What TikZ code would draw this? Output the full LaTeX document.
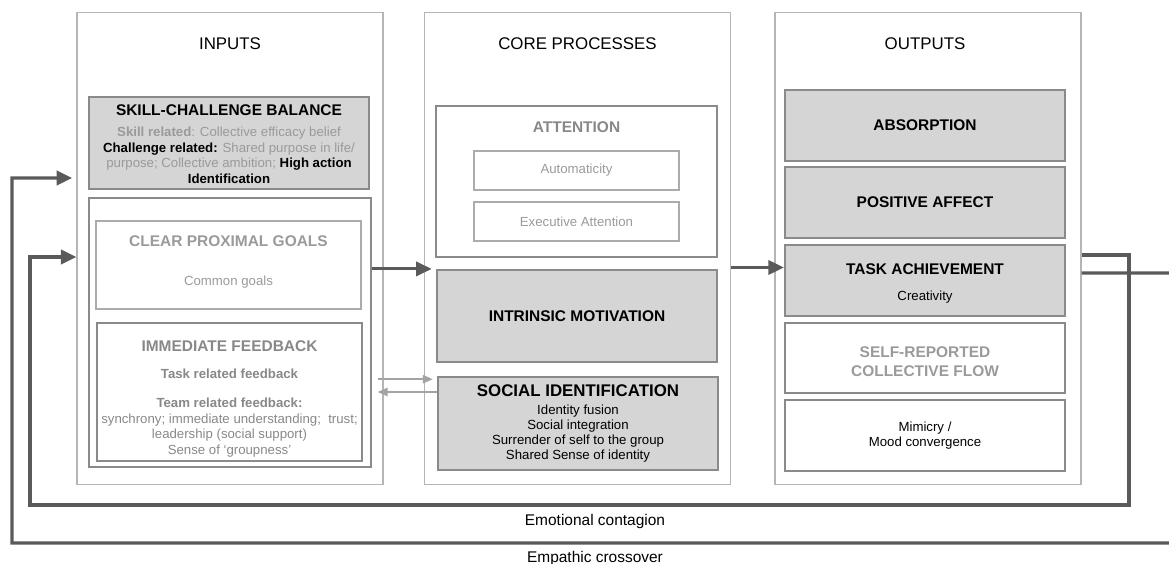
\documentclass[tikz,border=0pt]{standalone}
\usepackage{fontspec}
\setmainfont{Liberation Sans}
\usepackage{tikz}
\usetikzlibrary{calc,positioning,arrows.meta}

\definecolor{boxfill}{HTML}{D5D5D5}
\definecolor{boxline}{HTML}{8A8A8A}
\definecolor{panelline}{HTML}{B5B5B5}
\definecolor{thinline}{HTML}{ABABAB}
\definecolor{txtgray}{HTML}{9A9A9A}
\definecolor{txtmid}{HTML}{888888}
\definecolor{flowgray}{HTML}{5A5A5A}
\definecolor{backgray}{HTML}{A3A3A3}

\newcommand{\cardtitle}[1]{{\fontsize{11}{13}\selectfont\bfseries #1}}

\begin{document}
\begin{tikzpicture}[x=0.025cm, y=-0.025cm,
  panel/.style = {draw=panelline, line width=0.8pt, minimum width=7.65cm, minimum height=11.775cm},
  head/.style = {font=\fontsize{12}{14}\selectfont},
  card/.style = {draw=boxline, line width=1.5pt, align=center, inner sep=0pt, minimum width=7cm, font=\fontsize{9.4}{11}\selectfont},
  grey card/.style = {card, fill=boxfill},
  thin card/.style = {card, draw=thinline, line width=0.8pt},
  cardtext/.style = {align=center, inner sep=0pt, anchor=north, font=\fontsize{9.4}{11}\selectfont},
  flow/.style = {draw=flowgray, line width=2.2pt, -{Triangle[length=11pt,width=10pt]}},
  loopline/.style = {draw=flowgray, line width=2.4pt, -{Triangle[length=11pt,width=10pt]}},
  back/.style = {draw=backgray, line width=1.1pt, -{Triangle[length=7pt,width=6pt]}}]
\useasboundingbox (0,0) rectangle (1169,564);

% the three columns
\node[panel] (inputs) at (230,248.5) {};
\node[panel] (core) at (577.5,248.5) {};
\node[panel] (outputs) at (928,248.5) {};
\node[head] (inhead) at (230,44) {INPUTS};
\node[head] (corehead) at (577.5,44) {CORE PROCESSES};
\node[head] (outhead) at (925,44) {OUTPUTS};

% inputs
\node[grey card, minimum height=2.3cm] (skill) at (229,143) {};
\node[cardtext] (skilltext) at (229,104.5) {\cardtitle{SKILL-CHALLENGE BALANCE}\\[4pt]
  \textcolor{txtgray}{\textbf{Skill related}: Collective efficacy belief}\\
  \textbf{Challenge related:} \textcolor{txtgray}{Shared purpose in life/}\\
  \textcolor{txtgray}{purpose; Collective ambition;} \textbf{High action}\\
  \textbf{Identification}};
\node[card, minimum width=7.05cm, minimum height=6.725cm] (group) at (230,332.5) {};
\node[thin card, minimum width=6.625cm, minimum height=2.2cm, text=txtgray, text depth=6pt] (goals) at (228.5,265)
  {\cardtitle{CLEAR PROXIMAL GOALS}\\[17pt] Common goals};
\node[card, minimum width=6.625cm, minimum height=3.45cm] (feedback) at (229.5,392) {};
\node[cardtext, text=txtmid] (fbtext) at (229.5,340.5)
  {\cardtitle{IMMEDIATE FEEDBACK}\\[8pt] \textbf{Task related feedback}\\[10pt] \textbf{Team related feedback:}\\
  synchrony; immediate understanding;\ \ trust;\\ leadership (social support)\\ Sense of `groupness'};

% core processes
\node[card, minimum width=7.025cm, minimum height=3.775cm] (attention) at (576.5,181.5) {};
\node[font=\fontsize{11}{13}\selectfont\bfseries, text=txtmid] (atttitle) at (576.5,127) {ATTENTION};
\node[thin card, minimum width=5.125cm, minimum height=0.975cm, text=txtgray] (autom) at (576.5,170.5) {Automaticity};
\node[thin card, minimum width=5.125cm, minimum height=0.975cm, text=txtgray] (exec) at (576.5,221.5) {Executive Attention};
\node[grey card, minimum height=2.3cm] (intr) at (577,316) {\cardtitle{INTRINSIC MOTIVATION}};
\node[grey card, minimum height=2.325cm, font=\fontsize{9.4}{10.7}\selectfont] (social) at (578,423.5)
  {{\fontsize{12}{14}\selectfont\bfseries SOCIAL IDENTIFICATION}\\[2pt] Identity fusion\\ Social integration\\
  Surrender of self to the group\\ Shared Sense of identity};

% outputs
\node[grey card, minimum height=1.775cm] (absorb) at (925,125.5) {\cardtitle{ABSORPTION}};
\node[grey card, minimum height=1.775cm] (affect) at (925,202.5) {\cardtitle{POSITIVE AFFECT}};
\node[grey card, minimum height=1.775cm, text height=30pt] (task) at (925,280.5) {\cardtitle{TASK ACHIEVEMENT}\\[7pt] Creativity};
\node[card, minimum height=1.75cm, text=txtgray, text height=27pt] (selfrep) at (925,358) {\cardtitle{SELF-REPORTED}\\[2.5pt] \cardtitle{COLLECTIVE FLOW}};
\node[card, minimum height=1.775cm] (mimic) at (925,435.5) {Mimicry /\\ Mood convergence};

% flow through the model
\draw[flow, shorten >=3pt] (group.east |- intr.north west) -- (intr.north west);
\coordinate (taskin) at ($(task.west)+(0,-13)$);
\draw[flow] (core.east |- taskin) -- (taskin);
\coordinate (sidup) at ([yshift=31.5pt]social.west);
\coordinate (siddown) at ([yshift=22.4pt]social.west);
\draw[back, shorten <=4pt, shorten >=3pt] (group.east |- sidup) -- (sidup);
\draw[back, shorten >=4pt] (siddown) -- (group.east |- siddown);

% feedback loops
\coordinate (emo) at ([yshift=-4.6pt]outputs.east);
\coordinate (emp) at ([yshift=-17.4pt]outputs.east);
\draw[loopline] (emo) -| (1129,505) -| (30,257) -- (inputs.west |- 30,257);
\draw[loopline, shorten >=3pt] (emp) -- (1200,273) |- (12,543) |- (inputs.west |- 0,178);
\node[font=\fontsize{11}{13}\selectfont] (emolabel) at (595,521) {Emotional contagion};
\node[font=\fontsize{11}{13}\selectfont] (emplabel) at (595,558) {Empathic crossover};
\end{tikzpicture}
\end{document}
